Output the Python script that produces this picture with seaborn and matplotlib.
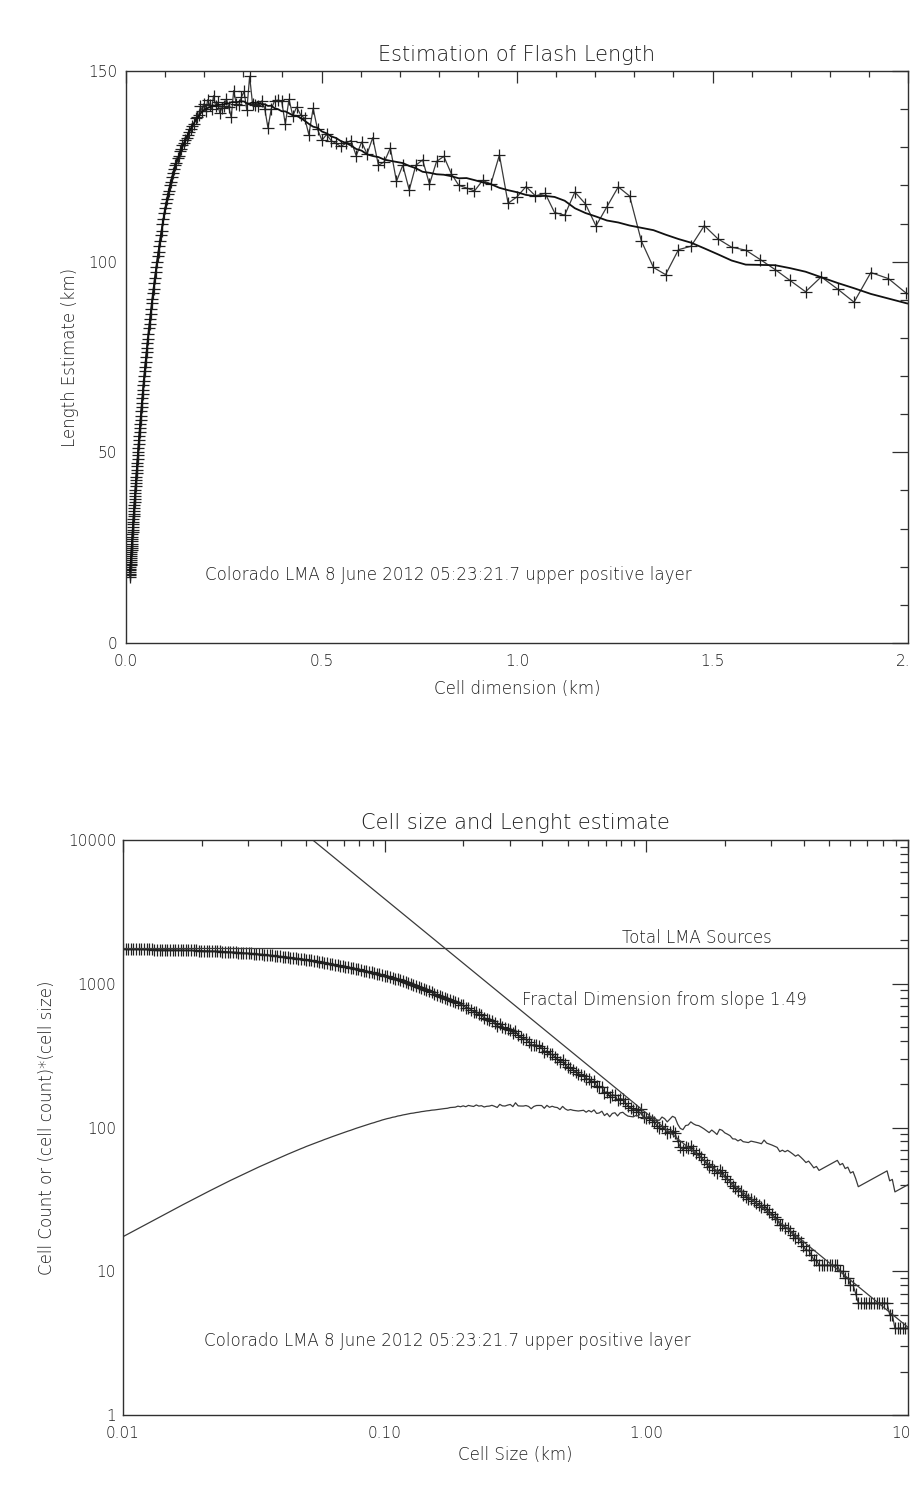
import numpy as np
import pandas as pd
import matplotlib
matplotlib.use("Agg")
import matplotlib.pyplot as plt
import seaborn as sns
from matplotlib.ticker import FixedLocator, FixedFormatter, MultipleLocator, LogLocator, NullFormatter

# ---------------- data ----------------
# cell sizes: one decade of log-spaced mantissas, repeated over three decades (km)
mantissa = [1.000, 1.023, 1.047, 1.072, 1.096, 1.122, 1.148, 1.175, 1.202, 1.230,
            1.259, 1.288, 1.318, 1.349, 1.380, 1.413, 1.445, 1.479, 1.514, 1.549,
            1.585, 1.622, 1.660, 1.698, 1.738, 1.778, 1.820, 1.862, 1.905, 1.950,
            1.995, 2.042, 2.089, 2.138, 2.188, 2.239, 2.291, 2.344, 2.399, 2.455,
            2.512, 2.570, 2.630, 2.692, 2.754, 2.818, 2.884, 2.951, 3.020, 3.090,
            3.162, 3.236, 3.311, 3.388, 3.467, 3.548, 3.631, 3.715, 3.802, 3.890,
            3.981, 4.074, 4.169, 4.266, 4.365, 4.467, 4.571, 4.677, 4.786, 4.898,
            5.012, 5.129, 5.248, 5.370, 5.495, 5.623, 5.754, 5.888, 6.026, 6.166,
            6.310, 6.457, 6.607, 6.761, 6.918, 7.079, 7.244, 7.413, 7.586, 7.762,
            7.943, 8.128, 8.318, 8.511, 8.710, 8.913, 9.120, 9.333, 9.550, 9.772]
decades = [0.01, 0.1, 1.0]
last_size = 10.0

# number of occupied cells for each cell size
cell_counts = [
    1740, 1739, 1739, 1738, 1737, 1736, 1736, 1735, 1734, 1733,
    1732, 1731, 1729, 1728, 1727, 1726, 1725, 1724, 1722, 1721,
    1720, 1718, 1716, 1714, 1712, 1710, 1708, 1706, 1704, 1702,
    1700, 1697, 1694, 1691, 1688, 1684, 1681, 1678, 1675, 1672,
    1669, 1664, 1659, 1654, 1649, 1645, 1640, 1635, 1630, 1625,
    1620, 1613, 1607, 1600, 1594, 1587, 1580, 1574, 1567, 1561,
    1554, 1546, 1538, 1529, 1521, 1513, 1503, 1496, 1488, 1478,
    1471, 1461, 1452, 1440, 1431, 1420, 1409, 1401, 1389, 1380,
    1369, 1358, 1348, 1336, 1326, 1313, 1303, 1290, 1281, 1270,
    1258, 1247, 1234, 1224, 1210, 1200, 1186, 1176, 1163, 1153,
    1140, 1127, 1111, 1099, 1082, 1071, 1054, 1041, 1025, 1011,
    996, 978, 964, 947, 934, 917, 903, 886, 872, 855,
    841, 826, 812, 798, 783, 774, 758, 744, 739, 715,
    709, 683, 682, 660, 640, 641, 615, 605, 579, 572,
    561, 555, 534, 512, 526, 502, 489, 485, 479, 452,
    470, 437, 426, 416, 410, 395, 372, 377, 374, 366,
    357, 334, 342, 324, 322, 310, 301, 285, 293, 275,
    263, 260, 251, 244, 237, 233, 229, 217, 218, 208,
    210, 194, 191, 192, 175, 177, 164, 169, 167, 155,
    159, 157, 148, 141, 137, 133, 133, 129, 134, 118,
    117, 117, 112, 110, 103, 100, 103, 98, 91, 93,
    95, 91, 80, 73, 70, 73, 72, 74, 70, 67,
    65, 62, 59, 56, 53, 54, 51, 48, 51, 49,
    46, 44, 42, 39, 38, 36, 36, 34, 33, 32,
    32, 31, 30, 29, 28, 29, 27, 26, 25, 24,
    23, 21, 21, 20, 20, 19, 18, 17, 17, 16,
    15, 14, 14, 13, 12, 12, 11, 11, 11, 11,
    11, 11, 11, 11, 10, 10, 9, 9, 8, 8,
    7, 6, 6, 6, 6, 6, 6, 6, 6, 6,
    6, 6, 6, 5, 5, 4, 4, 4, 4, 4, 4]

total_sources = 1760
fit_slope = -1.49
fit_count_at_1km = 126.0
smooth_window = 15

top_xticks = [0.0, 0.5, 1.0, 1.5, 2.0]
top_xticklabels = ["0.0", "0.5", "1.0", "1.5", "2.0"]
top_yticks = [0, 50, 100, 150]
top_yticklabels = ["0", "50", "100", "150"]
bot_xticks = [0.01, 0.1, 1.0, 10.0]
bot_xticklabels = ["0.01", "0.10", "1.00", "10.0"]
bot_yticks = [1, 10, 100, 1000, 10000]
bot_yticklabels = ["1", "10", "100", "1000", "10000"]

annotation = "Colorado LMA 8 June 2012 05:23:21.7 upper positive layer"

# ---------------- derived table ----------------
sizes = np.concatenate([np.array(mantissa) * d for d in decades] + [np.array([last_size])])
counts = np.array(cell_counts, dtype=float)
df = pd.DataFrame({"size": sizes, "count": counts})
df["length"] = df["count"] * df["size"]
df["smooth"] = df["length"].rolling(smooth_window, center=True, min_periods=1).mean()

fit_df = pd.DataFrame({"size": [sizes[0], sizes[-1]]})
fit_df["count"] = fit_count_at_1km * fit_df["size"] ** fit_slope

# ---------------- style ----------------
sns.set_style("white")
plt.rcParams["font.family"] = ["DejaVu Sans"]
plt.rcParams["font.weight"] = "light"
TXT = "#1e1e1e"
LINE = "#3a3a3a"
W, H = 910, 1491
FS = 12
FS_TITLE = 15

fig = plt.figure(figsize=(W / 100, H / 100), dpi=100)
fig.patch.set_facecolor("white")


def px_axes(x0, y0, x1, y1):
    return fig.add_axes([x0 / W, 1 - y1 / H, (x1 - x0) / W, (y1 - y0) / H])


def style_axes(ax):
    for sp in ax.spines.values():
        sp.set_color("#303030")
        sp.set_linewidth(1.0)
    ax.tick_params(which="both", direction="in", top=True, right=True,
                   colors="#303030", labelcolor=TXT, labelsize=11, width=0.9)
    ax.tick_params(axis="y", which="major", length=11.5, pad=6.5)
    ax.tick_params(axis="y", which="minor", length=5.8)
    ax.tick_params(axis="x", which="major", length=8.3, pad=8)
    ax.tick_params(axis="x", which="minor", length=4.3)
    ax.set_xlabel("")
    ax.set_ylabel("")


# ---------------- top panel ----------------
ax1 = px_axes(126, 71, 908, 643)
sns.lineplot(data=df, x="size", y="length", ax=ax1, color=LINE, linewidth=0.9,
             marker="+", markersize=9, markeredgewidth=0.9, markeredgecolor="#202020",
             estimator=None, sort=False, legend=False)
sns.lineplot(data=df, x="size", y="smooth", ax=ax1, color="#111111", linewidth=1.3,
             estimator=None, sort=False, legend=False)
ax1.set_xlim(0, 2.0)
ax1.set_ylim(0, 150)
ax1.xaxis.set_major_locator(FixedLocator(top_xticks))
ax1.xaxis.set_major_formatter(FixedFormatter(top_xticklabels))
ax1.xaxis.set_minor_locator(MultipleLocator(0.1))
ax1.yaxis.set_major_locator(FixedLocator(top_yticks))
ax1.yaxis.set_major_formatter(FixedFormatter(top_yticklabels))
ax1.yaxis.set_minor_locator(MultipleLocator(10))
style_axes(ax1)
ax1.text(0.101, 0.119, annotation, transform=ax1.transAxes, ha="left", va="center",
         fontsize=FS, color=TXT)

fig.text(517 / W, 1 - 55 / H, "Estimation of Flash Length", ha="center", va="center",
         fontsize=FS_TITLE, color=TXT)
fig.text(517 / W, 1 - 689 / H, "Cell dimension (km)", ha="center", va="center",
         fontsize=FS, color=TXT)
fig.text(70 / W, 1 - 357 / H, "Length Estimate (km)", ha="center", va="center",
         rotation=90, fontsize=FS, color=TXT)

# ---------------- bottom panel ----------------
ax2 = px_axes(123, 840, 908, 1415)
sns.lineplot(data=df, x="size", y="count", ax=ax2, color=LINE, linewidth=0.9,
             marker="+", markersize=9, markeredgewidth=0.9, markeredgecolor="#202020",
             estimator=None, sort=False, legend=False)
sns.lineplot(data=df, x="size", y="length", ax=ax2, color=LINE, linewidth=0.9,
             estimator=None, sort=False, legend=False)
sns.lineplot(data=fit_df, x="size", y="count", ax=ax2, color=LINE, linewidth=0.9,
             estimator=None, sort=False, legend=False)
ax2.axhline(total_sources, color=LINE, linewidth=0.9)
ax2.set_xscale("log")
ax2.set_yscale("log")
ax2.set_xlim(0.01, 10.0)
ax2.set_ylim(1, 10000)
ax2.xaxis.set_major_locator(FixedLocator(bot_xticks))
ax2.xaxis.set_major_formatter(FixedFormatter(bot_xticklabels))
ax2.xaxis.set_minor_locator(LogLocator(base=10, subs=np.arange(2, 10)))
ax2.xaxis.set_minor_formatter(NullFormatter())
ax2.yaxis.set_major_locator(FixedLocator(bot_yticks))
ax2.yaxis.set_major_formatter(FixedFormatter(bot_yticklabels))
ax2.yaxis.set_minor_locator(LogLocator(base=10, subs=np.arange(2, 10)))
ax2.yaxis.set_minor_formatter(NullFormatter())
style_axes(ax2)
ax2.tick_params(axis="y", which="major", pad=5)

ax2.text(0.6357, 0.830, "Total LMA Sources", transform=ax2.transAxes, ha="left",
         va="center", fontsize=FS, color=TXT)
ax2.text(0.508, 0.7217, "Fractal Dimension from slope 1.49", transform=ax2.transAxes,
         ha="left", va="center", fontsize=FS, color=TXT)
ax2.text(0.103, 0.1287, annotation, transform=ax2.transAxes, ha="left", va="center",
         fontsize=FS, color=TXT)

fig.text(515 / W, 1 - 823 / H, "Cell size and Lenght estimate", ha="center", va="center",
         fontsize=FS_TITLE, color=TXT)
fig.text(515 / W, 1 - 1455 / H, "Cell Size (km)", ha="center", va="center",
         fontsize=FS, color=TXT)
fig.text(47 / W, 1 - 1128 / H, "Cell Count or (cell count)*(cell size)", ha="center",
         va="center", rotation=90, fontsize=FS, color=TXT)

fig.savefig("out.png", dpi=100, facecolor="white")
